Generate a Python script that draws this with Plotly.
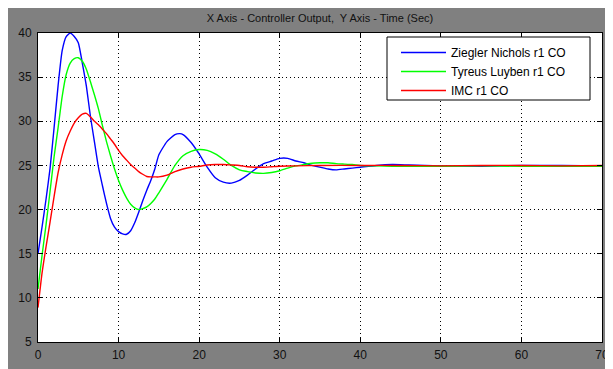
import plotly.graph_objects as go

# Time points (sec)
t_zn = [0, 0.5, 1, 1.5, 2, 2.5, 3, 3.5, 4, 4.5, 5, 5.5, 6, 6.5, 7, 7.5, 8, 8.5, 9, 9.5,
        10, 10.5, 11, 11.5, 12, 12.5, 13, 13.5, 14, 14.5, 15, 16, 17, 17.6, 18, 19, 20,
        21, 22, 23, 24, 25, 26, 27, 28, 29, 30, 31, 32, 33, 34, 35, 36, 37, 38, 39, 40,
        42, 44, 46, 48, 50, 55, 60, 65, 70]
zn = [15.0, 18.0, 21.2, 24.7, 29.3, 34.1, 38.0, 39.6, 40.0, 39.6, 38.9, 36.6, 34.0, 30.6,
      27.7, 24.8, 22.7, 20.7, 19.0, 18.0, 17.5, 17.25, 17.2, 17.6, 18.5, 19.7, 21.0, 22.2,
      23.3, 24.6, 26.2, 27.7, 28.5, 28.6, 28.5, 27.6, 26.3, 24.8, 23.6, 23.1, 23.0, 23.3,
      23.9, 24.6, 25.2, 25.5, 25.8, 25.8, 25.5, 25.3, 25.0, 24.8, 24.6, 24.5, 24.6, 24.7,
      24.8, 25.0, 25.1, 25.05, 25.0, 24.95, 24.9, 25.0, 25.0, 24.95]

t_tl = [0, 0.5, 1, 1.5, 2, 2.5, 3, 3.5, 4, 4.5, 5, 5.5, 6, 6.5, 7, 7.5, 8, 8.5, 9, 9.5,
        10, 10.5, 11, 11.5, 12, 12.5, 13, 13.5, 14, 14.5, 15, 16, 17, 18, 19, 20, 21, 22,
        23, 24, 25, 26, 27, 28, 29, 30, 31, 32, 33, 34, 35, 36, 37, 38, 39, 40, 42, 44,
        46, 48, 50, 55, 60, 65, 70]
tl = [11.0, 14.8, 18.3, 22.1, 26.0, 29.3, 32.8, 35.3, 36.6, 37.1, 37.2, 36.8, 35.9, 34.5,
      33.0, 31.4, 29.5, 27.7, 26.1, 24.6, 23.3, 22.2, 21.3, 20.6, 20.2, 20.0, 20.1, 20.3,
      20.7, 21.2, 21.9, 23.4, 25.0, 26.1, 26.6, 26.8, 26.7, 26.3, 25.7, 25.0, 24.5, 24.3,
      24.15, 24.1, 24.2, 24.4, 24.7, 24.95, 25.1, 25.25, 25.3, 25.3, 25.2, 25.15, 25.1,
      25.0, 24.95, 24.9, 24.9, 24.9, 24.9, 24.95, 24.9, 24.9, 24.9]

t_imc = [0, 0.5, 1, 1.5, 2, 2.5, 3, 3.5, 4, 4.5, 5, 5.5, 6, 6.5, 7, 7.5, 8, 8.5, 9, 9.5,
         10, 10.5, 11, 11.5, 12, 12.5, 13, 13.5, 14, 14.5, 15, 16, 17, 18, 19, 20, 21, 22,
         23, 24, 25, 26, 27, 28, 29, 30, 32, 35, 40, 45, 50, 55, 60, 65, 70]
imc = [8.9, 12.8, 15.8, 18.6, 21.5, 24.2, 26.2, 27.8, 28.9, 29.8, 30.4, 30.8, 30.9, 30.5,
       30.0, 29.6, 29.1, 28.6, 28.0, 27.4, 26.7, 26.1, 25.6, 25.1, 24.7, 24.3, 24.0, 23.75,
       23.7, 23.7, 23.7, 23.9, 24.3, 24.6, 24.8, 24.9, 25.05, 25.1, 25.1, 25.05, 25.0,
       24.85, 24.8, 24.8, 24.85, 24.9, 24.95, 25.0, 25.0, 25.0, 24.95, 25.0, 25.0, 24.95, 25.0]

names = ["Ziegler Nichols r1 CO", "Tyreus Luyben r1 CO", "IMC r1 CO"]
colors = ["#0000ff", "#00ff00", "#ff0000"]

x_ticks = [0, 10, 20, 30, 40, 50, 60, 70]
y_ticks = [5, 10, 15, 20, 25, 30, 35, 40]

FONT = "Liberation Sans Narrow, Arial Narrow, Liberation Sans, Arial, sans-serif"
GRAY = "#808080"

fig = go.Figure()
for tx, ty, nm, c in zip([t_zn, t_tl, t_imc], [zn, tl, imc], names, colors):
    fig.add_trace(go.Scatter(x=tx, y=ty, mode="lines", name=nm,
                             line=dict(color=c, width=1.4, shape="spline", smoothing=0.5)))

# figure is placed by the page with an 8px body margin
W, H = 605, 361
L, R, T, B = 30, 11, 25, 27
pw, ph = W - L - R, H - T - B

axis_common = dict(showgrid=True, gridcolor="black", griddash="1px,3px", gridwidth=1,
                   showline=True, linecolor="black", linewidth=1, mirror="ticks",
                   ticks="inside", ticklen=5, tickcolor="black", zeroline=False,
                   automargin=False,
                   tickfont=dict(family=FONT, size=12, color="#111111"))

fig.update_layout(
    width=W, height=H,
    margin=dict(l=L, r=R, t=T, b=B, autoexpand=False),
    paper_bgcolor=GRAY, plot_bgcolor="white",
    title=dict(text="X Axis - Controller Output,  Y Axis - Time (Sec)",
               x=0.5, xref="paper", xanchor="center", y=1 - 10 / H, yanchor="middle",
               automargin=False,
               font=dict(family=FONT, size=11, color="#111111")),
    xaxis=dict(range=[0, 70], tickvals=x_ticks, ticklabelstandoff=2, **axis_common),
    yaxis=dict(range=[5, 40], tickvals=y_ticks, ticklabelstandoff=3, **axis_common),
    legend=dict(x=(388 - L) / pw, xanchor="left", y=1 - (30 - T) / ph, yanchor="top",
                bgcolor="rgba(0,0,0,0)", borderwidth=0,
                font=dict(family=FONT, size=12, color="black"),
                tracegroupgap=0, itemwidth=45),
    showlegend=True,
)

# legend frame
fig.add_shape(type="rect", xref="paper", yref="paper",
              x0=(379 - L) / pw, x1=(582 - L) / pw,
              y0=1 - (92 - T) / ph, y1=1 - (29 - T) / ph,
              fillcolor="white", line=dict(color="black", width=1), layer="above")

fig.write_html("out.html")
